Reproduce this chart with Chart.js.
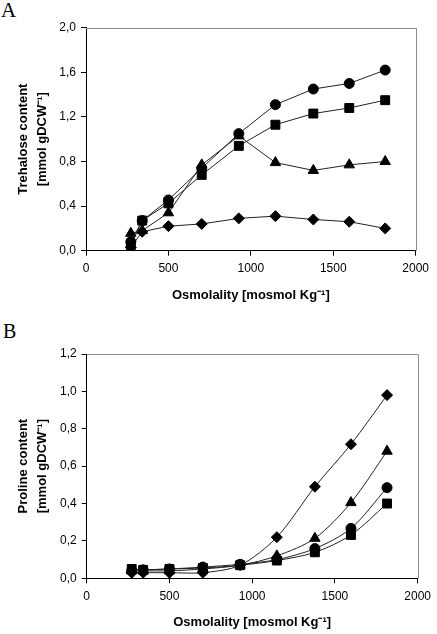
<!DOCTYPE html>
<html>
<head>
<meta charset="utf-8">
<script src="https://cdn.jsdelivr.net/npm/chart.js@4/dist/chart.umd.min.js"></script>
<style>
  body { margin: 0; background: #fff; width: 437px; height: 634px; overflow: hidden; position: relative; }
  .panel { position: absolute; left: 0; width: 437px; }
  .letter { position: absolute; font-family: "Liberation Serif", "DejaVu Serif", serif; line-height: 1; color: #000; }
</style>
</head>
<body>
<div class="letter" style="left:1px; top:0px; font-size:21px;">A</div>
<div class="letter" style="left:3px; top:321px; font-size:20px;">B</div>
<div class="panel" style="top:0px; height:318px;"><canvas id="chartA" width="437" height="318"></canvas></div>
<div class="panel" style="top:320px; height:314px;"><canvas id="chartB" width="437" height="314"></canvas></div>
<script>
// osmolality of the medium (mosmol/kg), same for all series
var osmolality = [272, 341, 500, 702, 927, 1149, 1379, 1597, 1815];

// panel A - trehalose content (mmol gDCW-1)
var trehCircle   = [0.08, 0.27, 0.455, 0.74, 1.05, 1.31, 1.45, 1.50, 1.62];
var trehSquare   = [0.05, 0.27, 0.425, 0.68, 0.94, 1.13, 1.23, 1.28, 1.35];
var trehTriangle = [0.156, 0.18, 0.34, 0.77, 1.03, 0.79, 0.72, 0.77, 0.80];
var trehDiamond  = [0.03, 0.17, 0.22, 0.24, 0.29, 0.31, 0.28, 0.26, 0.20];

// panel B - proline content (mmol gDCW-1)
var proDiamond  = [0.03, 0.03, 0.03, 0.03, 0.07, 0.22, 0.49, 0.717, 0.98];
var proTriangle = [0.04, 0.04, 0.04, 0.05, 0.07, 0.12, 0.214, 0.405, 0.68];
var proCircle   = [0.04, 0.045, 0.05, 0.06, 0.075, 0.10, 0.159, 0.267, 0.485];
var proSquare   = [0.05, 0.045, 0.05, 0.055, 0.07, 0.095, 0.139, 0.232, 0.40];

var xTicksMax = 2000, xStep = 500;

function pts(ys) {
  return ys.map(function(y, i) { return {x: osmolality[i], y: y}; });
}

function series(ys, style, radius, tension) {
  return {
    data: pts(ys),
    showLine: true,
    borderColor: '#222',
    borderWidth: 1,
    backgroundColor: '#000',
    pointStyle: style,
    pointRadius: radius,
    pointBackgroundColor: '#000',
    pointBorderColor: '#000',
    pointBorderWidth: 1,
    tension: tension
  };
}

// grey frame on top and right like the original plot box
var framePlugin = {
  id: 'frame',
  beforeDatasetsDraw: function(chart) {
    var a = chart.chartArea, c = chart.ctx;
    c.save();
    c.strokeStyle = '#8a8a8a';
    c.lineWidth = 1;
    c.beginPath();
    c.moveTo(a.left, Math.round(a.top) + 0.5);
    c.lineTo(Math.round(a.right) + 0.5, Math.round(a.top) + 0.5);
    c.lineTo(Math.round(a.right) + 0.5, a.bottom);
    c.stroke();
    c.restore();
  }
};

function makeChart(id, datasets, yMax, yStep, yTitle, box) {
  var ctx = document.getElementById(id).getContext('2d');
  return new Chart(ctx, {
    type: 'scatter',
    data: { datasets: datasets },
    plugins: [framePlugin],
    options: {
      responsive: false,
      animation: false,
      layout: { padding: { top: box.top, right: box.right, left: 0, bottom: 0 } },
      plugins: { legend: { display: false }, tooltip: { enabled: false } },
      scales: {
        x: {
          type: 'linear', min: 0, max: xTicksMax,
          afterFit: function(s) { s.height = box.h - box.bottom; },
          border: { color: '#000', width: 1 },
          grid: { drawOnChartArea: false, color: '#000', tickLength: 5 },
          ticks: { stepSize: xStep, color: '#000', padding: 6, maxRotation: 0,
                   font: { family: 'Liberation Sans, Arial, sans-serif', size: 12 },
                   callback: function(v) { return String(v); } },
          title: { display: true, text: 'Osmolality [mosmol Kg\u207B\u00B9]', color: '#000',
                   padding: { top: 0, bottom: box.xTitlePad },
                   font: { family: 'Liberation Sans, Arial, sans-serif', size: 13, weight: 'bold', lineHeight: 1.5 } }
        },
        y: {
          type: 'linear', min: 0, max: yMax,
          afterFit: function(s) { s.width = box.left; },
          border: { color: '#000', width: 1 },
          grid: { drawOnChartArea: false, color: '#000', tickLength: 5 },
          ticks: { stepSize: yStep, color: '#000', padding: 5,
                   font: { family: 'Liberation Sans, Arial, sans-serif', size: 12 },
                   callback: function(v) { return v.toFixed(1).replace('.', ','); } },
          title: { display: true, text: yTitle, color: '#000',
                   padding: { top: 13.5, bottom: 0 },
                   font: { family: 'Liberation Sans, Arial, sans-serif', size: 13, weight: 'bold', lineHeight: 1.5 } }
        }
      }
    }
  });
}

makeChart('chartA', [
  series(trehCircle, 'circle', 5, 0),
  series(trehSquare, 'rect', 6.3, 0),
  series(trehTriangle, 'triangle', 6, 0),
  series(trehDiamond, 'rectRot', 5.5, 0)
], 2.0, 0.4, ['Trehalose content', '[mmol gDCW\u207B\u00B9]'],
  { h: 318, top: 27.7, right: 21.3, left: 86, bottom: 250.7, xTitlePad: 13 });

makeChart('chartB', [
  series(proDiamond, 'rectRot', 5.5, 0.3),
  series(proTriangle, 'triangle', 6, 0.3),
  series(proCircle, 'circle', 5, 0.3),
  series(proSquare, 'rect', 6.3, 0.3)
], 1.2, 0.2, ['Proline content', '[mmol gDCW\u207B\u00B9]'],
  { h: 314, top: 34, right: 16.3, left: 86.7, bottom: 258.3, xTitlePad: 1.5 });
</script>
</body>
</html>
